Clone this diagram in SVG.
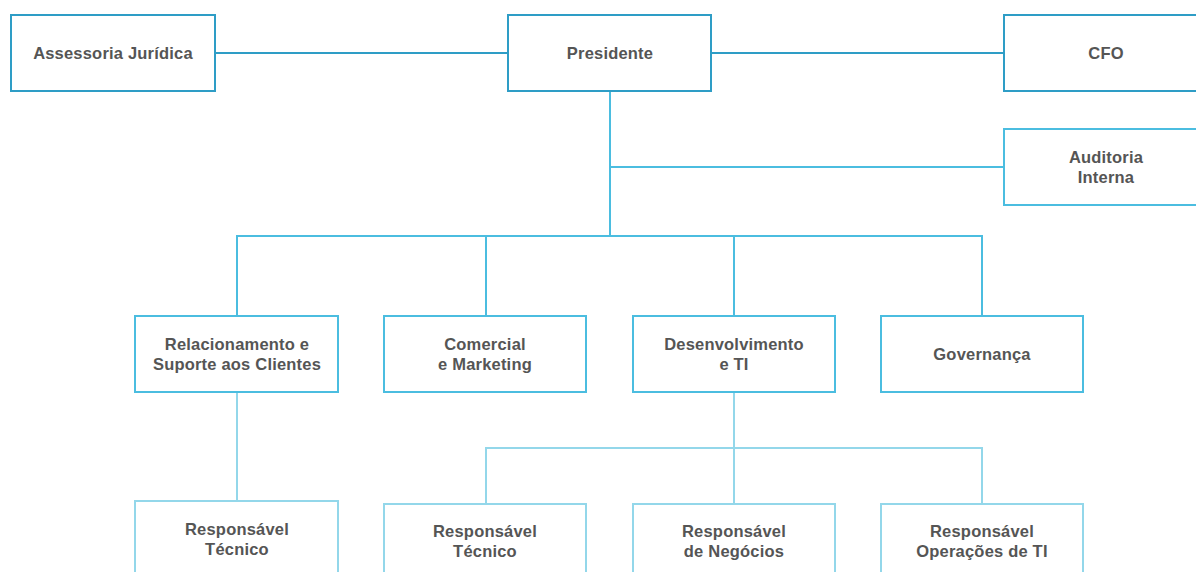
<svg xmlns="http://www.w3.org/2000/svg" width="1196" height="572" viewBox="0 0 1196 572">
<style>
.n1{fill:#fff;stroke:#2E9DC6;stroke-width:2}
.n2{fill:#fff;stroke:#4BBDE0;stroke-width:2}
.n3{fill:#fff;stroke:#93D7EA;stroke-width:2}
.c1{fill:none;stroke:#2E9DC6;stroke-width:2}
.c2{fill:none;stroke:#4BBDE0;stroke-width:2}
.c3{fill:none;stroke:#93D7EA;stroke-width:2}
text{font-family:"Liberation Sans",Arial,sans-serif;font-weight:bold;font-size:16.5px;letter-spacing:0.2px;fill:#555;text-anchor:middle}
</style>
<rect width="1196" height="572" fill="#fff"/>
<g id="connectors">
<line class="c1" x1="215" y1="53" x2="508" y2="53"/>
<line class="c1" x1="711" y1="53" x2="1004" y2="53"/>
<line class="c2" x1="610" y1="91" x2="610" y2="236"/>
<line class="c2" x1="610" y1="167" x2="1004" y2="167"/>
<polyline class="c2" points="237,316 237,236 982,236 982,316"/>
<line class="c2" x1="486" y1="236" x2="486" y2="316"/>
<line class="c2" x1="734" y1="236" x2="734" y2="316"/>
<line class="c3" x1="237" y1="392" x2="237" y2="501"/>
<line class="c3" x1="734" y1="392" x2="734" y2="504"/>
<polyline class="c3" points="486,504 486,448 982,448 982,504"/>
</g>
<g id="assessoria"><rect class="n1" x="11" y="15" width="204" height="76"/><text x="113" y="59">Assessoria Jurídica</text></g>
<g id="presidente"><rect class="n1" x="508" y="15" width="203" height="76"/><text x="610" y="59">Presidente</text></g>
<g id="cfo"><rect class="n1" x="1004" y="15" width="204" height="76"/><text x="1106" y="59">CFO</text></g>
<g id="auditoria"><rect class="n2" x="1004" y="129" width="204" height="76"/><text x="1106" y="163">Auditoria</text><text x="1106" y="183">Interna</text></g>
<g id="relacionamento"><rect class="n2" x="135" y="316" width="203" height="76"/><text x="237" y="350">Relacionamento e</text><text x="237" y="370">Suporte aos Clientes</text></g>
<g id="comercial"><rect class="n2" x="384" y="316" width="202" height="76"/><text x="485" y="350">Comercial</text><text x="485" y="370">e Marketing</text></g>
<g id="desenvolvimento"><rect class="n2" x="633" y="316" width="202" height="76"/><text x="734" y="350">Desenvolvimento</text><text x="734" y="370">e TI</text></g>
<g id="governanca"><rect class="n2" x="881" y="316" width="202" height="76"/><text x="982" y="360">Governança</text></g>
<g id="resp-tec-1"><rect class="n3" x="135" y="501" width="203" height="80"/><text x="237" y="535">Responsável</text><text x="237" y="555">Técnico</text></g>
<g id="resp-tec-2"><rect class="n3" x="384" y="504" width="202" height="80"/><text x="485" y="537">Responsável</text><text x="485" y="557">Técnico</text></g>
<g id="resp-neg"><rect class="n3" x="633" y="504" width="202" height="80"/><text x="734" y="537">Responsável</text><text x="734" y="557">de Negócios</text></g>
<g id="resp-ops"><rect class="n3" x="881" y="504" width="202" height="80"/><text x="982" y="537">Responsável</text><text x="982" y="557">Operações de TI</text></g>
</svg>
